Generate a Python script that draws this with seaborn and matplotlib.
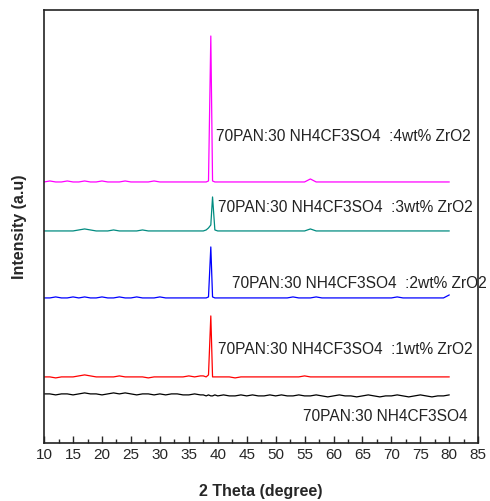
import numpy as np
import pandas as pd
import matplotlib
matplotlib.use("Agg")
import matplotlib.pyplot as plt
from matplotlib.ticker import MultipleLocator
import seaborn as sns

# 2 theta grid (degree), finer around the main reflection
two_theta = list(range(10, 38)) + [37.5, 38.0, 38.4, 38.8, 39.1, 39.5] + list(range(40, 81))

# intensities (a.u.), already vertically offset
pure = [49, 49, 48, 49, 49, 48, 49, 50, 49, 49, 48, 49, 50, 49, 50, 49, 48, 49, 49, 48, 49, 48, 49, 49, 48, 48, 49, 48,
        48, 47, 48, 47, 47, 48,
        47, 48, 47, 47, 48, 47, 48, 47, 47, 48, 47, 48, 47, 47, 48, 47, 47, 48, 47, 46, 47, 48, 47, 47, 46, 47, 48, 47, 46,
        47, 47, 48, 47, 46, 47, 48, 47, 46, 47, 47, 48]
wt1 = [66, 66, 65, 66, 66, 66, 67, 68, 67, 66, 66, 66, 66, 67, 66, 66, 66, 66, 65, 66, 66, 66, 66, 66, 66, 67, 66, 67,
       67, 66, 68, 127, 66, 66,
       66, 66, 66, 65, 66, 66, 66, 66, 66, 66, 66, 66, 66, 66, 66, 67, 66, 66, 66, 66, 66, 66, 66, 66, 66, 66, 66, 66, 66,
       66, 66, 66, 66, 66, 66, 66, 66, 66, 66, 66, 66]
wt2 = [145, 145, 146, 145, 145, 146, 145, 146, 145, 145, 146, 145, 145, 146, 145, 145, 146, 145, 145, 145, 146, 145, 145, 145, 145, 145, 145, 145,
       145, 145, 146, 196, 146, 145,
       145, 145, 145, 145, 145, 145, 145, 145, 145, 145, 145, 145, 145, 146, 145, 145, 145, 146, 145, 145, 145, 145, 145, 145, 145, 145, 145, 145, 145,
       145, 145, 146, 145, 145, 145, 145, 145, 145, 145, 145, 148]
wt3 = [212, 212, 212, 212, 212, 212, 213, 214, 213, 212, 212, 212, 213, 212, 212, 212, 212, 213, 212, 212, 212, 212, 212, 212, 212, 212, 212, 212,
       212, 213, 215, 218, 246, 213,
       212, 212, 212, 212, 212, 212, 212, 212, 212, 212, 212, 212, 212, 212, 212, 212, 214, 212, 212, 212, 212, 212, 212, 212, 212, 212, 212, 212, 212,
       212, 212, 212, 212, 212, 212, 212, 212, 212, 212, 212, 212]
wt4 = [261, 262, 261, 261, 262, 261, 261, 262, 261, 261, 262, 261, 261, 261, 262, 261, 261, 261, 261, 262, 261, 261, 261, 261, 261, 261, 261, 261,
       261, 261, 262, 407, 262, 261,
       261, 261, 261, 261, 261, 261, 261, 261, 261, 261, 261, 261, 261, 261, 261, 261, 264, 261, 261, 261, 261, 261, 261, 261, 261, 261, 261, 261, 261,
       261, 261, 261, 261, 261, 261, 261, 261, 261, 261, 261, 261]

labels = ["70PAN:30 NH4CF3SO4",
          "70PAN:30 NH4CF3SO4  :1wt% ZrO2",
          "70PAN:30 NH4CF3SO4  :2wt% ZrO2",
          "70PAN:30 NH4CF3SO4  :3wt% ZrO2",
          "70PAN:30 NH4CF3SO4  :4wt% ZrO2"]
colors = ["black", "#ff0000", "#0000ff", "#008b80", "#ff00ff"]
label_x = [54.7, 40.1, 42.5, 40.1, 39.7]
label_y = [26, 93, 159, 235, 306]

sns.set_style("white")
plt.rcParams['font.family'] = ['Liberation Sans', 'DejaVu Sans']

fig = plt.figure(figsize=(4.9, 5.01), dpi=100)
ax = fig.add_axes([0.09, 0.116, 0.886, 0.864])

for series, col in zip([pure, wt1, wt2, wt3, wt4], colors):
    df = pd.DataFrame({"2theta": two_theta, "I": series})
    sns.lineplot(data=df, x="2theta", y="I", color=col, linewidth=0.9, ax=ax)

for txt, tx, ty in zip(labels, label_x, label_y):
    ax.text(tx, ty, txt, fontsize=11.2, va="center", ha="left", color="#222222", clip_on=False)

ax.set_xlim(10, 85)
ax.set_ylim(0, 433)
ax.set_yticks([])
ax.xaxis.set_major_locator(MultipleLocator(5))
ax.xaxis.set_minor_locator(MultipleLocator(2.5))
ax.tick_params(axis="x", which="major", direction="in", length=5, width=1, labelsize=11, bottom=True)
ax.tick_params(axis="x", which="minor", direction="in", length=3, width=1, bottom=True)
for sp in ax.spines.values():
    sp.set_color("#222222")
    sp.set_linewidth(1.2)

ax.set_xlabel("2 Theta (degree)", fontsize=11.5, fontweight="bold", labelpad=16)
ax.set_ylabel("Intensity (a.u)", fontsize=11.5, fontweight="bold", labelpad=12)

fig.savefig("out.png", dpi=100)
